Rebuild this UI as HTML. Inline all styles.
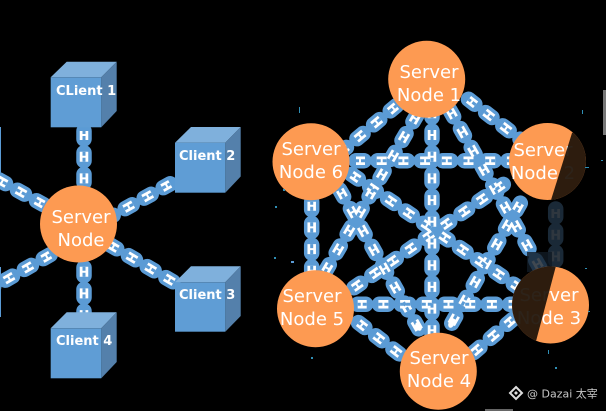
<!DOCTYPE html>
<html><head><meta charset="utf-8"><style>
html,body{margin:0;padding:0;background:#000;width:606px;height:411px;overflow:hidden}
svg{display:block}
.l{fill:none}
.a{stroke:#5b9bd5;stroke-width:15.5;stroke-linecap:round;stroke-dasharray:8 13.7}
.b{stroke:#fff;stroke-width:8.5;stroke-dasharray:10 11.7;stroke-dashoffset:1}
.c{stroke:#5b9bd5;stroke-width:3;stroke-dasharray:4 2 4 11.7;stroke-dashoffset:1}
.d{stroke:#1a2937}
.e{stroke:#2f373f}
.t{font-family:"DejaVu Sans","Liberation Sans",sans-serif;font-size:18px;fill:#fff;text-anchor:middle}
.k{font-family:"DejaVu Sans","Liberation Sans",sans-serif;font-size:13px;font-weight:bold;fill:#fff}
</style></head><body>
<svg width="606" height="411" viewBox="0 0 606 411" xmlns="http://www.w3.org/2000/svg">
<rect width="606" height="411" fill="#000"/>
<defs>
<g id="m" class="l">
<path d="M84 131V190"/>
<path d="M84 246V322"/>
<path d="M170.2 183.8L110 217"/>
<path d="M109.8 244.7L175 283"/>
<path d="M43.5 204.6L-10 175"/>
<path d="M50.2 254.7L-10 289"/>
<path d="M432 109.3V340"/>
<path d="M356 160.7H515"/>
<path d="M357.7 304.3H520"/>
<path d="M311.7 201.7V280"/>
<path d="M396.4 105.7L335 157"/>
<path d="M468.5 99.3L525 143"/>
<path d="M417 114.9L325 272"/>
<path d="M449.7 109.8L540 268"/>
<path d="M339.7 189.8L420 331"/>
<path d="M520.3 203.2L449 328"/>
<path d="M351.7 174.5L525 292"/>
<path d="M503.3 184.4L345 294"/>
<path d="M358.5 322.6L415 366"/>
<path d="M513 319.1L465 360"/>
</g>
<clipPath id="c2"><circle cx="547.5" cy="161.5" r="38.5"/></clipPath>
<clipPath id="c3"><circle cx="550.5" cy="305" r="38.5"/></clipPath>
</defs>

<!-- edge cubes -->
<rect x="0" y="127" width="1" height="46" fill="#5b9bd5"/>
<rect x="0" y="267" width="1" height="50" fill="#5b9bd5"/>

<!-- chains -->
<use href="#m" class="l a"/>
<use href="#m" class="l b"/>
<use href="#m" class="l c"/>

<!-- blob link ends -->
<ellipse cx="418.5" cy="326.5" rx="3" ry="4.5" transform="rotate(-25 418.5 326.5)" fill="#fff"/>
<ellipse cx="451.5" cy="323.5" rx="3" ry="4.5" transform="rotate(25 451.5 323.5)" fill="#fff"/>

<!-- dim chain 2-3 -->
<path class="l a d" d="M555.7 209V272"/>
<path class="l b e" d="M555.7 209V272"/>
<path class="l c d" d="M555.7 209V272"/>
<polygon points="527,252 552,252 552,272 527,272" fill="#101a24" fill-opacity=".8"/>

<!-- client cubes -->
<g>
<polygon points="50.7,77.3 66.7,61.7 116.7,61.7 101.3,77.3" fill="#7fb0dc"/>
<polygon points="101.3,77.3 116.7,61.7 116.7,111 101.3,127.3" fill="#5480ab"/>
<rect x="50.7" y="77.3" width="50.6" height="50" fill="#5f9dd5"/>
<polygon points="175,142.7 191,127 240.7,127 225.3,142.7" fill="#7fb0dc"/>
<polygon points="225.3,142.7 240.7,127 240.7,176.5 225.3,192.7" fill="#5480ab"/>
<rect x="175" y="142.7" width="50.3" height="50" fill="#5f9dd5"/>
<polygon points="175,282.3 191,266.3 240.7,266.3 225.3,282.3" fill="#7fb0dc"/>
<polygon points="225.3,282.3 240.7,266.3 240.7,316 225.3,331.7" fill="#5480ab"/>
<rect x="175" y="282.3" width="50.3" height="49.4" fill="#5f9dd5"/>
<polygon points="50.7,328.3 66.7,312.3 116.7,312.3 101.3,328.3" fill="#7fb0dc"/>
<polygon points="101.3,328.3 116.7,312.3 116.7,362 101.3,378.3" fill="#5480ab"/>
<rect x="50.7" y="328.3" width="50.6" height="50" fill="#5f9dd5"/>
</g>
<text class="k" x="56" y="95">CLient 1</text>
<text class="k" x="179" y="160">Client 2</text>
<text class="k" x="179" y="299">Client 3</text>
<text class="k" x="56" y="345">Client 4</text>

<!-- nodes -->
<g fill="#fd9a52">
<circle cx="78.5" cy="224" r="38.5"/>
<circle cx="426.7" cy="79.3" r="38.5"/>
<circle cx="311" cy="161.7" r="38.5"/>
<circle cx="547.5" cy="161.5" r="38.5"/>
<circle cx="550.5" cy="305" r="38.5"/>
<circle cx="315.5" cy="308.7" r="38.5"/>
<circle cx="438.3" cy="371.3" r="38.5"/>
</g>
<text class="t" x="81" y="223">Server</text><text class="t" x="81" y="246">Node</text>
<text class="t" x="429" y="78">Server</text><text class="t" x="429" y="101">Node 1</text>
<text class="t" x="311" y="155">Server</text><text class="t" x="311" y="178">Node 6</text>
<text class="t" x="543" y="156">Server</text><text class="t" x="543" y="179">Node 2</text>
<text class="t" x="549" y="301">Server</text><text class="t" x="549" y="324">Node 3</text>
<text class="t" x="312" y="302">Server</text><text class="t" x="312" y="325">Node 5</text>
<text class="t" x="439" y="364">Server</text><text class="t" x="439" y="387">Node 4</text>

<!-- dark bands -->
<polygon clip-path="url(#c2)" points="572,133 551,200 595,200 595,125" fill="#1d1209" fill-opacity=".93"/>
<polygon clip-path="url(#c3)" points="557,262 535,345 505,345 505,262" fill="#1d1209" fill-opacity=".93"/>

<!-- speckles -->
<g fill="#2f8fb5">
<rect x="311" y="357" width="2" height="2"/><rect x="274" y="257" width="2" height="2"/>
<rect x="291" y="261" width="3" height="2" fill="#5b9bd5"/><rect x="548" y="350" width="1" height="4"/>
<rect x="555" y="367" width="2" height="2"/><rect x="585" y="268" width="2" height="1"/>
<rect x="588" y="311" width="2" height="1"/><rect x="299" y="107" width="1" height="6"/>
<rect x="275" y="206" width="2" height="2"/><rect x="283" y="189" width="2" height="2"/>
<rect x="582" y="110" width="1" height="4"/><rect x="601" y="160" width="2" height="1"/>
<rect x="585" y="167" width="4" height="1"/>
</g>

<!-- edge fragments -->
<rect x="603" y="90" width="3" height="45" fill="#777"/>
<rect x="485" y="409" width="28" height="2" fill="#666"/>

<!-- watermark -->
<g>
<polygon points="516,387 522,393 516,399 510,393" fill="none" stroke="#ddd" stroke-width="2"/>
<polygon points="516,391 518,393 516,395 514,393" fill="#ddd"/>
<text x="527" y="397.5" style="font-family:'DejaVu Sans','Noto Sans CJK SC',sans-serif;font-size:11px;fill:#c8c8c8">@ Dazai 太宰</text>
</g>
</svg>
</body></html>
